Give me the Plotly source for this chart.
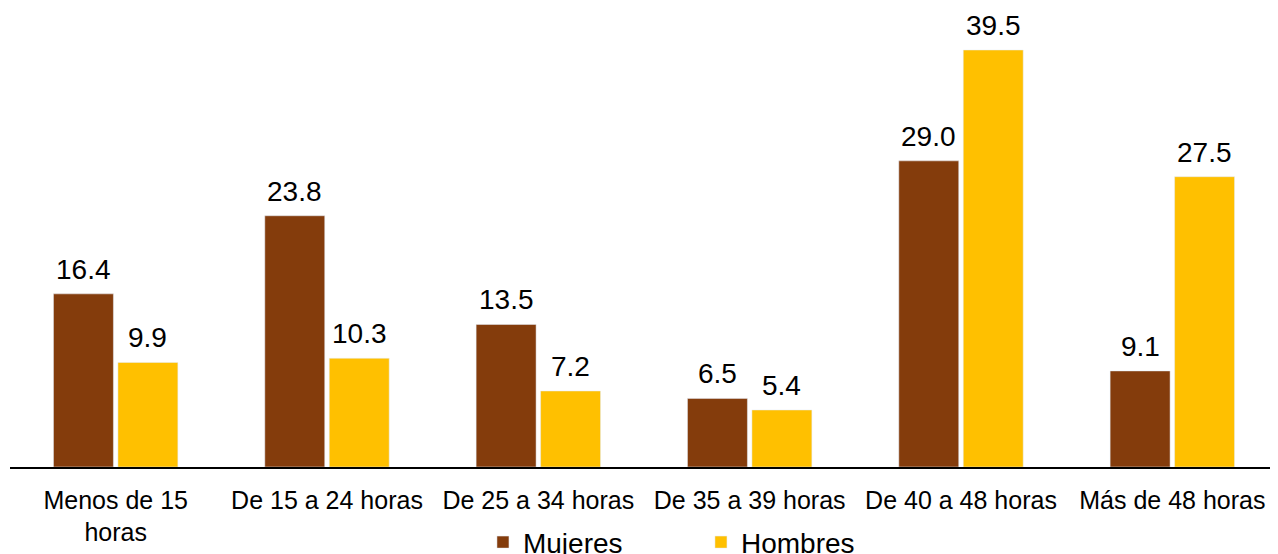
import plotly.graph_objects as go

categorias = ["Menos de 15<br>horas", "De 15 a 24 horas", "De 25 a 34 horas",
              "De 35 a 39 horas", "De 40 a 48 horas", "Más de 48 horas"]
mujeres = [16.4, 23.8, 13.5, 6.5, 29.0, 9.1]
hombres = [9.9, 10.3, 7.2, 5.4, 39.5, 27.5]

color_mujeres = "#843C0C"
color_hombres = "#FFC000"

fig = go.Figure()
fig.add_trace(go.Bar(x=categorias, y=mujeres, name="Mujeres", marker_color=color_mujeres))
fig.add_trace(go.Bar(x=categorias, y=hombres, name="Hombres", marker_color=color_hombres))

# etiquetas de valor encima de cada barra
for serie, desplaz in [(mujeres, -32.25), (hombres, 32.25)]:
    for cat, v in zip(categorias, serie):
        fig.add_annotation(x=cat, y=v, text=f"{v:.1f}", showarrow=False,
                           xshift=desplaz, yshift=7, yanchor="bottom",
                           font=dict(size=28, color="black"))

# la página pone 8 px de margen, por eso el lienzo es 8 px más pequeño
fig.update_layout(
    width=1270, height=546,
    margin=dict(l=2, r=0, t=2, b=87, autoexpand=False),
    plot_bgcolor="white", paper_bgcolor="white",
    font=dict(family="Liberation Sans, Arial, sans-serif", color="black"),
    barmode="group", bargap=0.39, bargroupgap=0.07,
    legend=dict(orientation="h", x=0.373, xanchor="left", y=-0.165, yanchor="middle",
                font=dict(size=28), entrywidth=173, itemwidth=30),
)
fig.update_xaxes(showline=True, linecolor="black", linewidth=1.5, ticks="",
                 tickfont=dict(size=25), ticklabelstandoff=10, automargin=False)
fig.update_yaxes(range=[0, 43.29], visible=False, showgrid=False)

fig.write_html("out.html")
